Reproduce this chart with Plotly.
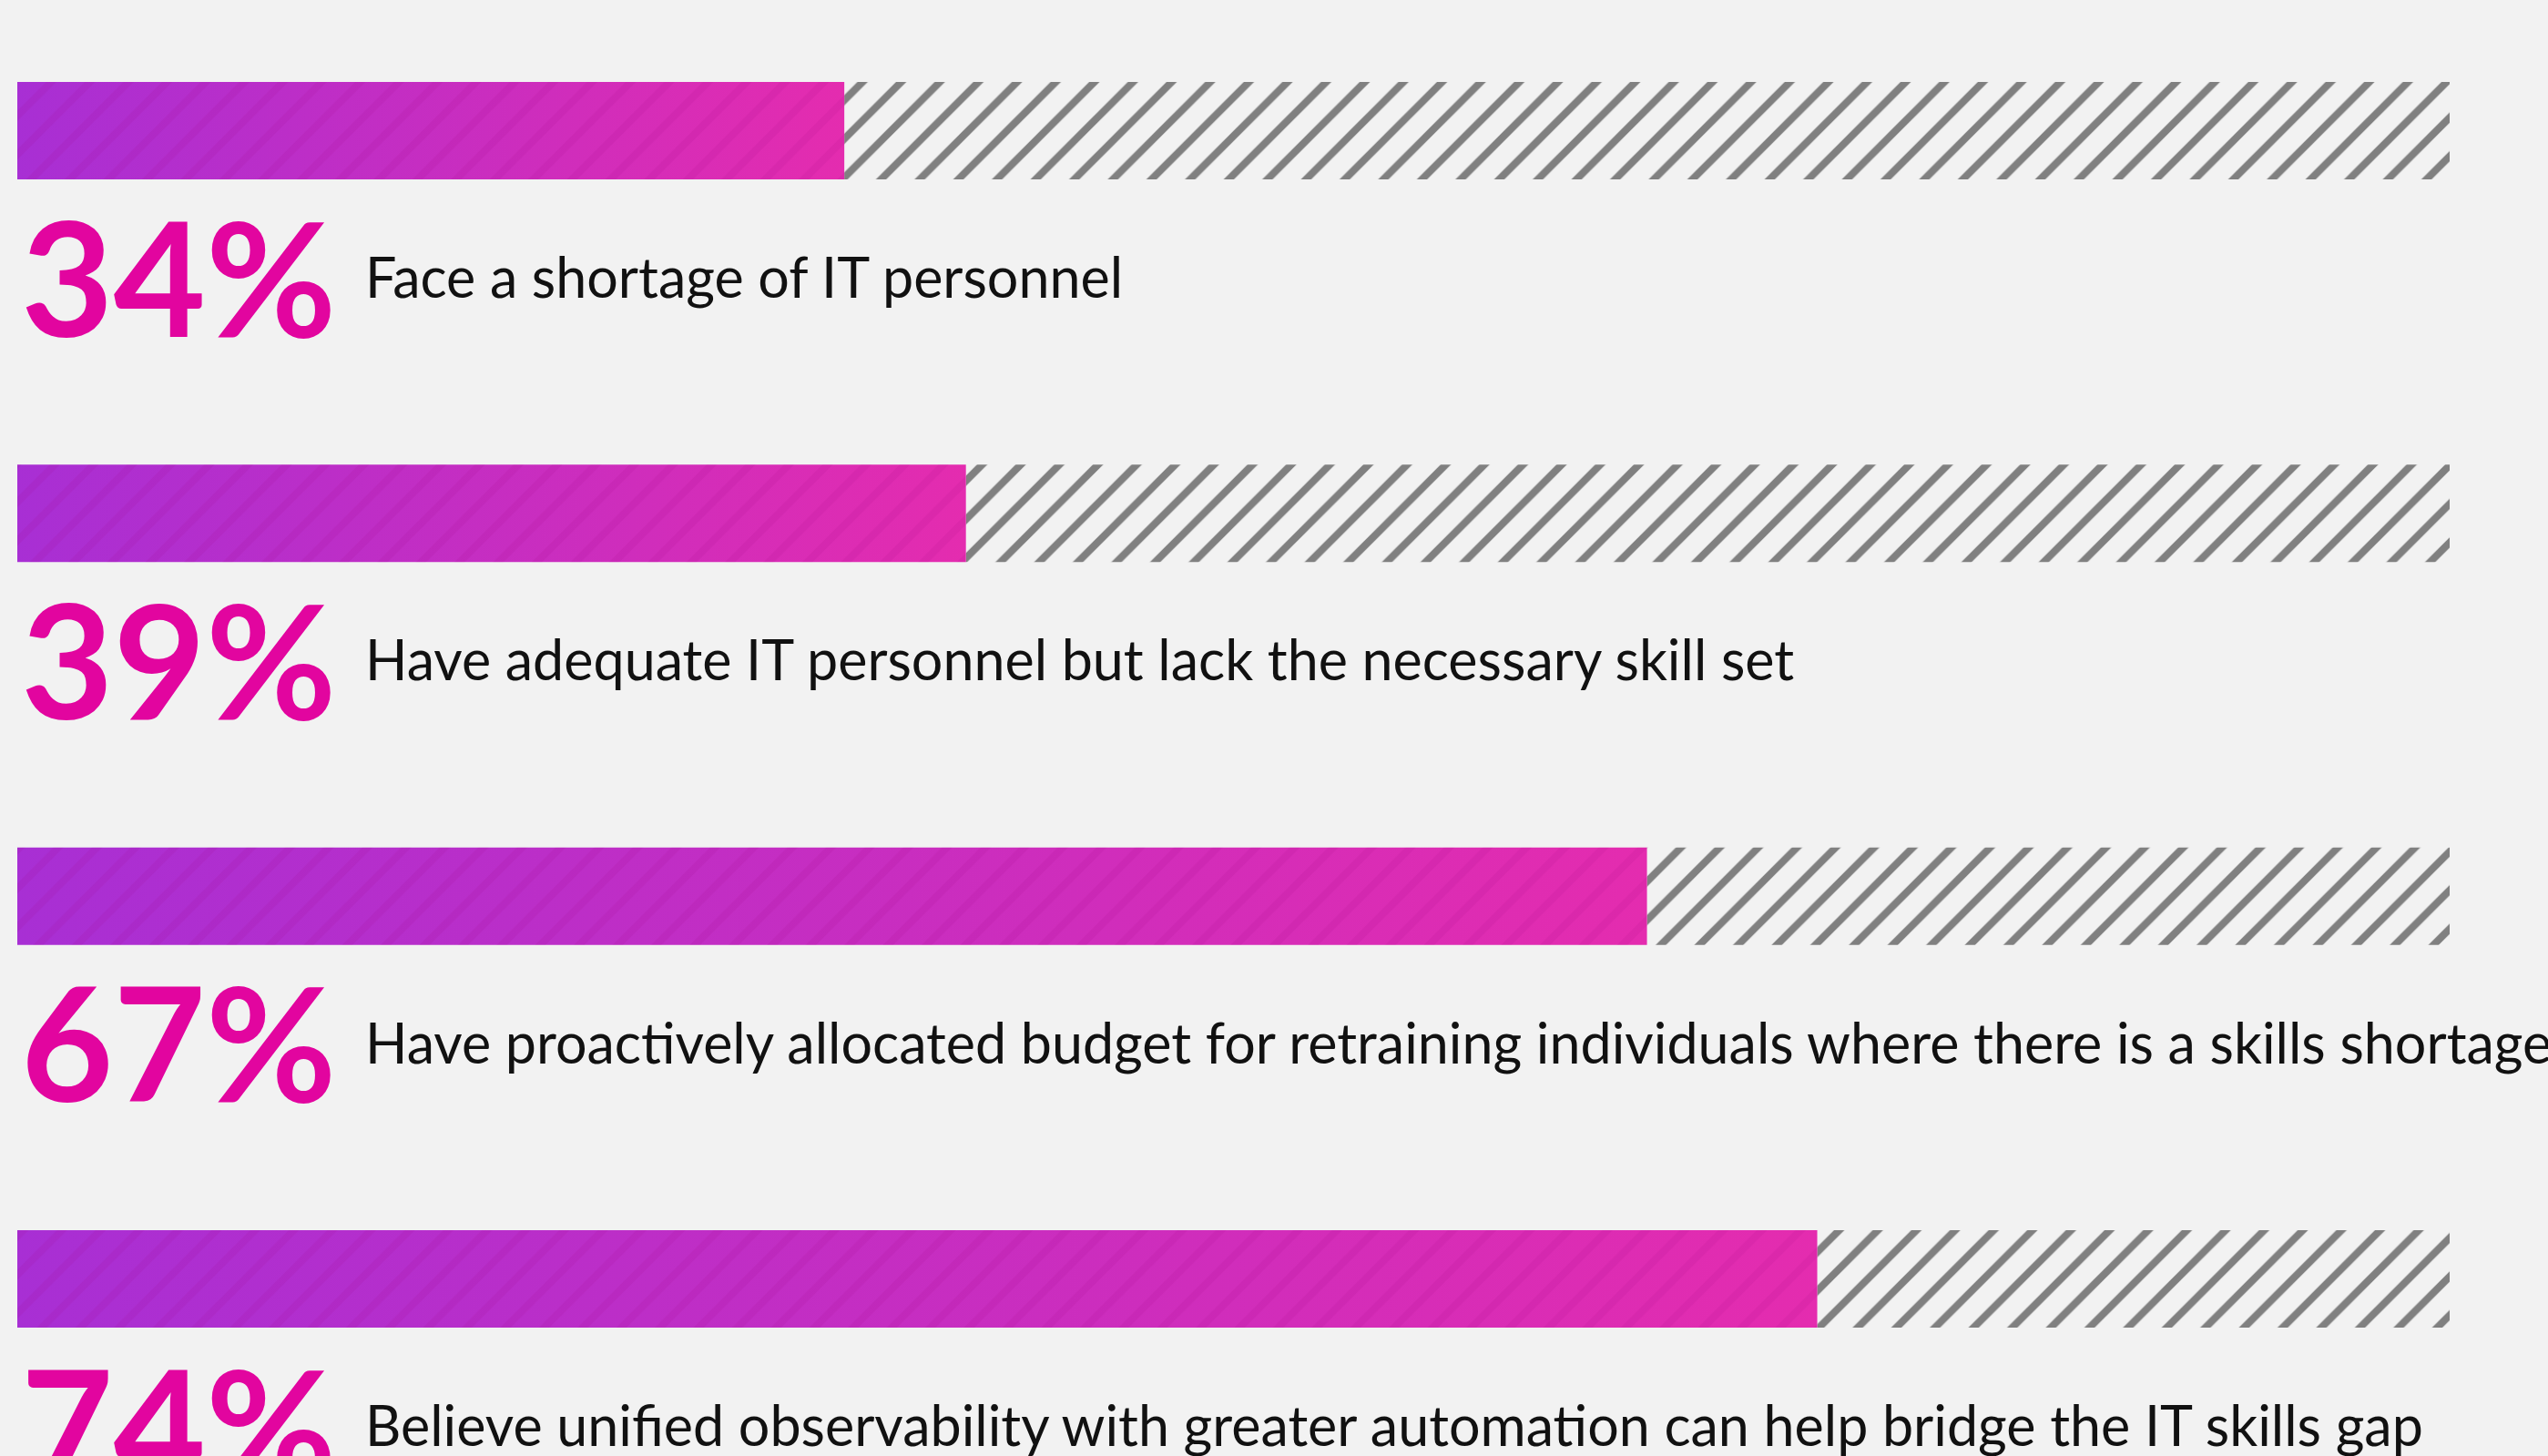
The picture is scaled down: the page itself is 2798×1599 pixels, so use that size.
import plotly.graph_objects as go

# ---- data ----
categories = [
    "Face a shortage of IT personnel",
    "Have adequate IT personnel but lack the necessary skill set",
    "Have proactively allocated budget for retraining individuals where there is a skills shortage",
    "Believe unified observability with greater automation can help bridge the IT skills gap",
]
values = [34, 39, 67, 74]
value_labels = ["34%", "39%", "67%", "74%"]
full_scale = 100

# ---- style ----
BG = "#f2f2f2"
HATCH = "#808080"
PCT_COLOR = "#e2059f"
GRAD = [[0.0, "#a82fd4"], [1.0, "#e42caf"]]
BAR_W = 0.2546

W, H = 2798, 1599
fig = go.Figure()

for i, v in enumerate(values):
    # remaining (hatched) part
    fig.add_trace(go.Bar(
        x=[full_scale - v], y=[i], base=[v], orientation="h", width=BAR_W,
        marker=dict(color="rgba(0,0,0,0)", line=dict(width=0),
                    pattern=dict(shape="/", size=30, solidity=0.27,
                                 fgcolor=HATCH, bgcolor="rgba(0,0,0,0)",
                                 fillmode="replace")),
        hoverinfo="skip", showlegend=False,
    ))
for i, v in enumerate(values):
    y0, y1 = i - BAR_W / 2, i + BAR_W / 2
    xs = [0, v, v, 0, 0]
    ys = [y0, y0, y1, y1, y0]
    # gradient fill of the value part
    fig.add_trace(go.Scatter(
        x=xs, y=ys, mode="lines", fill="toself", line=dict(width=0),
        fillgradient=dict(type="horizontal", colorscale=GRAD, start=0, stop=v),
        hoverinfo="skip", showlegend=False,
    ))
    # subtle darker stripes over the value part
    fig.add_trace(go.Scatter(
        x=xs, y=ys, mode="lines", fill="toself", line=dict(width=0),
        fillcolor="rgba(0,0,0,0)",
        fillpattern=dict(shape="/", size=30, solidity=0.27,
                         fgcolor="rgba(150,0,120,0.10)", bgcolor="rgba(0,0,0,0)",
                         fillmode="replace"),
        hoverinfo="skip", showlegend=False,
    ))

annotations = []
for i, (lab, pct) in enumerate(zip(categories, value_labels)):
    annotations.append(dict(
        x=0, y=i, xref="x", yref="y", text=pct, showarrow=False,
        xanchor="left", yanchor="middle", xshift=2, yshift=-158,
        font=dict(family="Lato", size=175, color=PCT_COLOR, weight="bold"),
    ))
    annotations.append(dict(
        x=0, y=i, xref="x", yref="y", text=lab, showarrow=False,
        xanchor="left", yanchor="middle", xshift=380, yshift=-160,
        font=dict(family="Lato", size=61, color="#111111"),
    ))

fig.update_layout(
    width=W, height=H,
    margin=dict(l=19, r=108, t=0, b=0),
    paper_bgcolor=BG, plot_bgcolor=BG,
    barmode="overlay",
    showlegend=False,
    hovermode=False,
    annotations=annotations,
    xaxis=dict(range=[0, full_scale], visible=False, fixedrange=True),
    yaxis=dict(range=[3.4627, -0.3414], visible=False, fixedrange=True),
)

fig.write_html(
    "out.html",
    config={"displayModeBar": False},
    post_script="document.body.style.margin='0';document.body.style.background='#f2f2f2';",
)
